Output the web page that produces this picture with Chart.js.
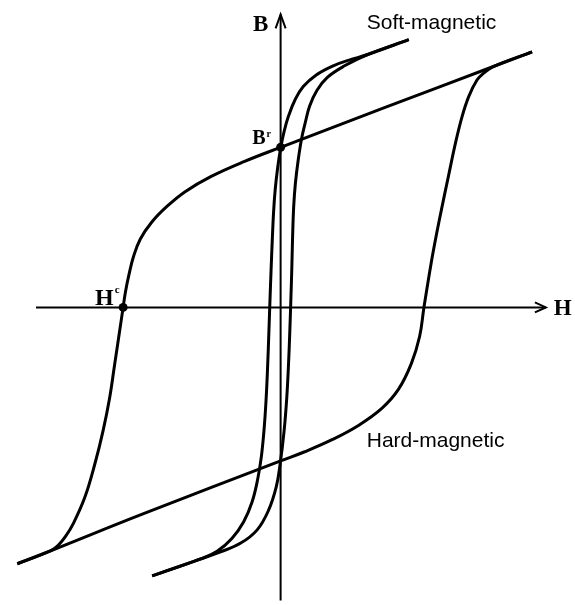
<!DOCTYPE html>
<html>
<head>
<meta charset="utf-8">
<script src="https://cdn.jsdelivr.net/npm/chart.js@4/dist/chart.umd.min.js"></script>
<style>
    html, body { margin: 0; padding: 0; background: #ffffff; }
    #wrap { width: 575px; height: 605px; position: relative; }
</style>
</head>
<body>
<div id="wrap"><canvas id="loops"></canvas></div>
<script>
// values, [H, B] in arbitrary units
const hardUpper = [
    [25.55, 25.95], [21.55, 24.43], [10.62, 20.3], [0, 16.25], [-3.72, 14.8],
    [-7.05, 13.3], [-9.7, 11.75], [-11.55, 10.25], [-13.1, 8.65], [-14.25, 6.95],
    [-14.95, 5.15], [-15.4, 3.35], [-15.75, 1.65], [-16.0, 0], [-16.38, -2.58],
    [-16.88, -5.92], [-17.38, -9.25], [-18.05, -12.58], [-18.88, -15.92], [-19.88, -19.25],
    [-21.05, -21.92], [-21.85, -23.25], [-22.55, -24.1], [-23.35, -24.7], [-26.75, -26.02],
];
const hardLower = [
    [-26.75, -26.02], [-23.35, -24.7], [-14.05, -20.98], [0, -15.58], [2.45, -14.65],
    [5.28, -13.4], [7.95, -11.95], [10.28, -10.25], [11.95, -8.35], [13.28, -5.7],
    [14.12, -2.95], [14.55, -0.08], [15.28, 4.42], [15.9, 7.75], [16.37, 10.08],
    [17.07, 13.42], [17.78, 16.75], [18.45, 19.42], [19.12, 21.42], [19.95, 23.08],
    [20.65, 23.8], [21.55, 24.43], [25.55, 25.95],
];
const softDown = [
    [13.02, 27.18], [8.78, 25.65], [6.95, 25.1], [5.28, 24.5], [3.62, 23.6],
    [2.3, 22.42], [1.47, 21.08], [0.81, 19.45], [0.37, 17.92], [0.02, 16.25],
    [-0.29, 14.25], [-0.55, 11.95], [-0.71, 9.75], [-0.85, 6.75], [-0.97, 3.75],
    [-1.08, 0.75], [-1.2, -2.75], [-1.33, -6.25], [-1.47, -9.25], [-1.67, -12.25],
    [-1.97, -15.25], [-2.35, -17.55], [-2.9, -19.75], [-3.75, -21.75], [-4.95, -23.45],
    [-6.45, -24.75], [-8.05, -25.5], [-13.05, -27.25],
];
const softUp = [
    [-13.05, -27.25], [-8.75, -25.75], [-6.38, -24.92], [-4.05, -23.92], [-2.38, -22.58],
    [-1.22, -20.58], [-0.45, -18.25], [-0.05, -15.92], [0.35, -12.58], [0.62, -9.25],
    [0.8, -5.85], [0.93, -2.55], [1.04, 0.75], [1.14, 4.05], [1.22, 7.25],
    [1.33, 10.25], [1.5, 12.58], [1.78, 14.92], [2.12, 17.08], [2.48, 18.65],
    [2.95, 20.45], [3.7, 22.05], [4.75, 23.35], [6.45, 24.5], [8.78, 25.65],
    [13.02, 27.18],
];
const marked = [[0, 16.25], [-16.0, 0]]; // B^r and H^c
const axisH = [-24.85, 26.95];
const axisB = [-29.75, 29.75];

const toXY = (pairs) => pairs.map(([x, y]) => ({ x, y }));

function curve(points) {
    return {
        data: toXY(points),
        showLine: true,
        borderColor: '#000000',
        borderWidth: 3,
        pointRadius: 0,
        tension: 0.4,
        fill: false,
    };
}

const axesPlugin = {
    id: 'axes',
    beforeDatasetsDraw(chart) {
        const { ctx, scales: { x, y } } = chart;
        const x0 = x.getPixelForValue(0);
        const y0 = y.getPixelForValue(0);
        const xl = x.getPixelForValue(axisH[0]);
        const xr = x.getPixelForValue(axisH[1]);
        const yb = y.getPixelForValue(axisB[0]);
        const yt = y.getPixelForValue(axisB[1]);

        ctx.save();
        ctx.strokeStyle = '#000000';
        ctx.lineWidth = 2;
        ctx.beginPath();
        ctx.moveTo(xl, y0);
        ctx.lineTo(xr, y0);
        ctx.moveTo(x0, yb);
        ctx.lineTo(x0, yt);
        ctx.stroke();

        // arrow heads
        ctx.beginPath();
        ctx.moveTo(xr - 11, y0 - 5);
        ctx.lineTo(xr, y0);
        ctx.lineTo(xr - 11, y0 + 5);
        ctx.moveTo(x0 - 5, yt + 14);
        ctx.lineTo(x0, yt);
        ctx.lineTo(x0 + 5, yt + 14);
        ctx.stroke();
        ctx.restore();
    },
    afterDatasetsDraw(chart) {
        const { ctx, scales: { x, y } } = chart;
        const px = (v) => x.getPixelForValue(v);
        const py = (v) => y.getPixelForValue(v);
        const serif = '"Liberation Serif", "Times New Roman", serif';

        ctx.save();
        ctx.fillStyle = '#000000';
        ctx.textBaseline = 'alphabetic';

        ctx.font = 'bold 23px ' + serif;
        ctx.textAlign = 'right';
        ctx.fillText('B', px(-1.25), py(28.05));
        ctx.textAlign = 'left';
        ctx.fillText('H', px(27.75), py(-0.75));

        // B^r
        ctx.font = 'bold 20px ' + serif;
        ctx.fillText('B', px(-2.88), py(16.58));
        let w = ctx.measureText('B').width;
        ctx.font = 'bold 10px ' + serif;
        ctx.fillText('r', px(-2.88) + w + 1, py(17.25));

        // H^c
        ctx.font = 'bold 24px ' + serif;
        ctx.fillText('H', px(-18.85), py(0.25));
        w = ctx.measureText('H').width;
        ctx.font = 'bold 11px ' + serif;
        ctx.fillText('c', px(-18.85) + w + 1, py(1.45));

        ctx.font = '21px "Liberation Sans", Arial, sans-serif';
        ctx.fillText('Soft-magnetic', px(8.75), py(28.25));
        ctx.fillText('Hard-magnetic', px(8.75), py(-14.15));
        ctx.restore();
    },
};

new Chart(document.getElementById('loops'), {
    type: 'scatter',
    data: {
        datasets: [
            curve(hardUpper),
            curve(hardLower),
            curve(softDown),
            curve(softUp),
            {
                data: toXY(marked),
                pointRadius: 4.5,
                pointBackgroundColor: '#000000',
                pointBorderWidth: 0,
                showLine: false,
            },
        ],
    },
    options: {
        responsive: true,
        maintainAspectRatio: false,
        animation: false,
        layout: { padding: 0 },
        scales: {
            x: { type: 'linear', min: -28.05, max: 29.45, display: false },
            y: { type: 'linear', min: -29.75, max: 30.75, display: false },
        },
        plugins: {
            legend: { display: false },
            tooltip: { enabled: false },
        },
    },
    plugins: [axesPlugin],
});
</script>
</body>
</html>
